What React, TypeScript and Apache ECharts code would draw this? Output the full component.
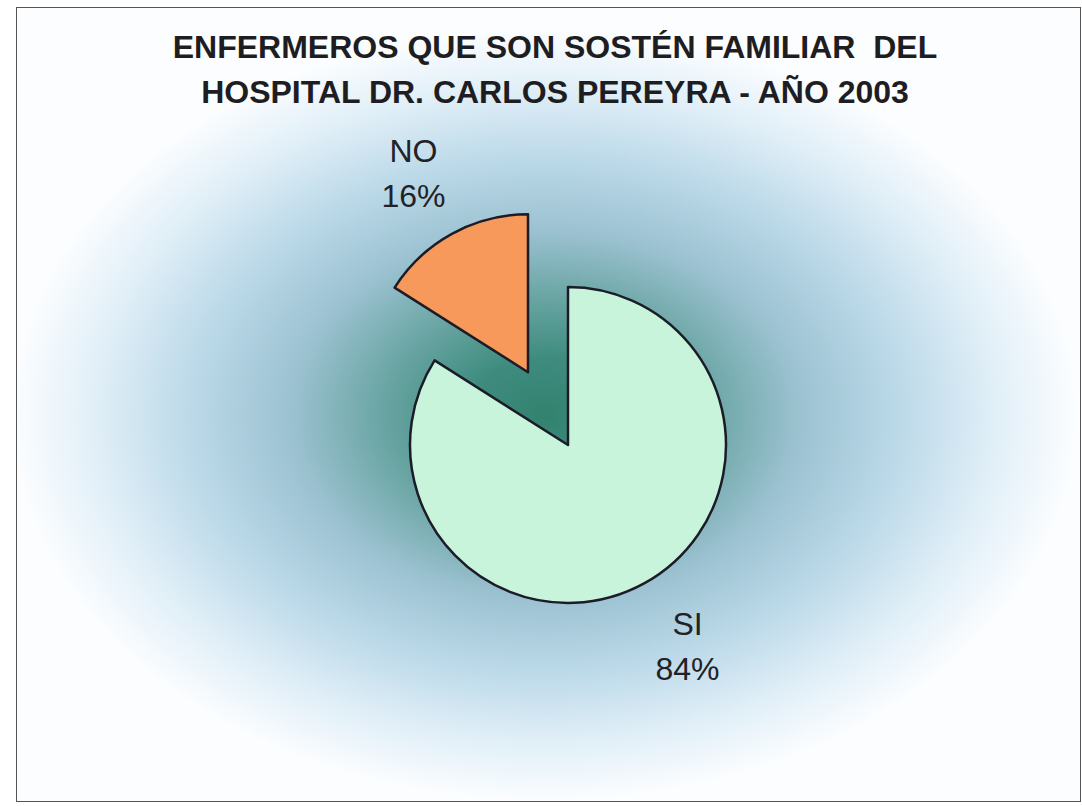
import React, { useEffect, useRef } from "react";
import * as echarts from "echarts";

const titleLines = [
  "ENFERMEROS QUE SON SOSTÉN FAMILIAR  DEL",
  "HOSPITAL DR. CARLOS PEREYRA - AÑO 2003",
];
const categories = ["SI", "NO"];
const values = [84, 16];
const sliceColors = ["#c9f4dc", "#f7995a"];
const explodedCategory = "NO";

const FONT = '"Liberation Sans", Arial, sans-serif';

export default function App() {
  const ref = useRef<HTMLDivElement>(null);

  useEffect(() => {
    if (!ref.current) return;
    const chart = echarts.init(ref.current, null, { renderer: "svg" });

    // label offsets from the slice's inside-label anchor
    const labelOffset: Record<string, [number, number]> = {
      SI: [80, 130],
      NO: [-75, -127],
    };

    const frame = { x: 17, y: 8, w: 1063, h: 793 };
    const gcx = 545;
    const gcy = 415;
    const sx = 1.38;

    chart.setOption({
      animation: false,
      backgroundColor: "#ffffff",
      graphic: [
        {
          type: "group",
          x: gcx,
          y: 0,
          scaleX: sx,
          silent: true,
          z: -10,
          children: [
            {
              type: "rect",
              shape: {
                x: (frame.x - gcx) / sx,
                y: frame.y,
                width: frame.w / sx,
                height: frame.h,
              },
              style: {
                fill: {
                  type: "radial",
                  x: 0,
                  y: gcy,
                  r: 385,
                  global: true,
                  colorStops: [
                    { offset: 0, color: "#33826f" },
                    { offset: 0.15, color: "#3f8c7f" },
                    { offset: 0.3, color: "#68a4a2" },
                    { offset: 0.48, color: "#9cc2d1" },
                    { offset: 0.66, color: "#bad8e8" },
                    { offset: 0.84, color: "#dfeef7" },
                    { offset: 1, color: "#fbfdff" },
                  ],
                },
              },
            },
          ],
        },
        {
          type: "rect",
          silent: true,
          z: -5,
          shape: { x: frame.x, y: frame.y, width: frame.w, height: frame.h },
          style: { fill: "none", stroke: "#555", lineWidth: 2 },
        },
        {
          type: "text",
          x: 555,
          y: 69,
          silent: true,
          style: {
            text: titleLines.join("\n"),
            font: `bold 32px ${FONT}`,
            fill: "#1e1e22",
            textAlign: "center",
            textVerticalAlign: "middle",
            lineHeight: 45,
          },
        },
      ],
      series: [
        {
          type: "pie",
          center: [568, 445],
          radius: 158,
          startAngle: 90,
          clockwise: true,
          selectedMode: "single",
          selectedOffset: 83,
          avoidLabelOverlap: false,
          emphasis: { disabled: true },
          itemStyle: { borderColor: "#1c1c28", borderWidth: 2.5 },
          label: {
            show: true,
            position: "inside",
            formatter: (p: any) => `${p.name}\n${Math.round(p.percent)}%`,
            fontSize: 32,
            lineHeight: 45,
            color: "#222226",
            fontFamily: FONT,
            align: "center",
            verticalAlign: "middle",
          },
          labelLine: { show: false },
          data: categories.map((c, i) => ({
            name: c,
            value: values[i],
            selected: c === explodedCategory,
            itemStyle: { color: sliceColors[i] },
            label: { offset: labelOffset[c] },
            select: {
              itemStyle: { color: sliceColors[i], borderColor: "#1c1c28", borderWidth: 2.5 },
              label: { offset: labelOffset[c] },
            },
          })),
        },
      ],
    });

    return () => chart.dispose();
  }, []);

  return (
    <div
      ref={ref}
      style={{ position: "absolute", left: 0, top: 0, width: 1082, height: 806 }}
    />
  );
}
